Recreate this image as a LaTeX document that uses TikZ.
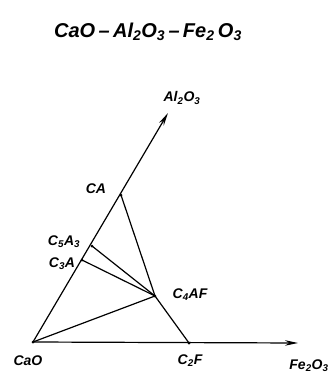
\documentclass[tikz,border=0pt]{standalone}
\usepackage{fontspec}
\setmainfont{Liberation Sans}
\usetikzlibrary{arrows.meta}
\begin{document}
\begin{tikzpicture}[x=1pt,y=-1pt,
  ln/.style={line width=1.2pt},
  ax/.style={line width=1.2pt,-{Stealth[length=13pt,width=5.5pt]}},
  lab/.style={font=\fontsize{14}{15}\selectfont\bfseries\itshape,inner sep=0pt},
  pt/.style={circle,fill,inner sep=0pt,minimum size=3pt}]
\useasboundingbox (0,0) rectangle (329,375);
\node[font=\fontsize{20}{22}\selectfont\bfseries\itshape,inner sep=0pt] (title) at (148,32) {CaO\,–\,Al\textsubscript{2}O\textsubscript{3}\,–\,Fe\textsubscript{2}\,O\textsubscript{3}};
\node[pt] (CaO) at (33,342) {};
\node[pt] (C3A) at (82,260) {};
\node[pt] (C5A3) at (92,246) {};
\node[pt] (CA) at (121,195) {};
\node[pt] (C4AF) at (155,296) {};
\node[pt] (C2F) at (189,343) {};
\coordinate (Atip) at (168,113);
\coordinate (Ftip) at (298,343);
\draw[ax] (CaO.center) -- (Atip);
\draw[ax] (CaO.center) -- (Ftip);
\draw[ln] (CA.center) -- (C4AF.center) -- (C2F.center);
\draw[ln] (C5A3.center) -- (C4AF.center);
\draw[ln] (C3A.center) -- (C4AF.center);
\draw[ln] (CaO.center) -- (C4AF.center);
\node[lab] (lA) at (182,98) {Al\textsubscript{2}O\textsubscript{3}};
\node[lab] (lCA) at (96,189) {CA};
\node[lab] (lC5A3) at (64,242) {C\textsubscript{5}A\textsubscript{3}};
\node[lab] (lC3A) at (62,264) {C\textsubscript{3}A};
\node[lab] (lC4AF) at (190,295) {C\textsubscript{4}AF};
\node[lab] (lCaO) at (28,361) {CaO};
\node[lab] (lC2F) at (190,361) {C\textsubscript{2}F};
\node[lab] (lF) at (309,366) {Fe\textsubscript{2}O\textsubscript{3}};
\end{tikzpicture}
\end{document}
